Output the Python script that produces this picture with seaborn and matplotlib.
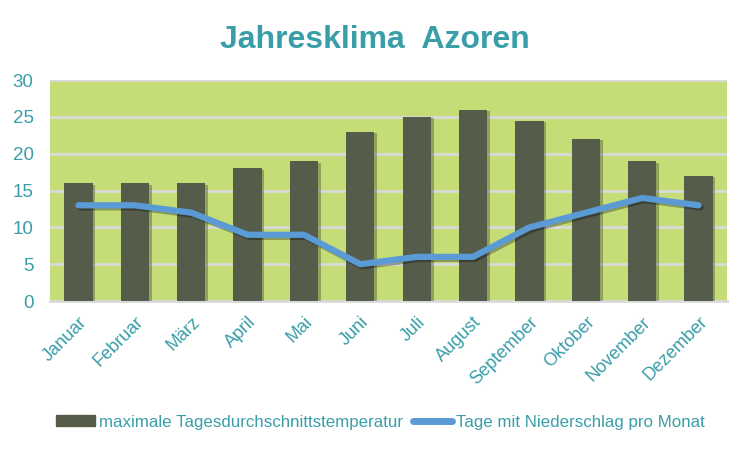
"""
plot.py

Jahresklima Azoren: max. Tagesdurchschnittstemperatur (Balken) und
Regentage pro Monat (Linie).
"""
import pandas as pd
import seaborn as sns

from matplotlib import pyplot as plt
from matplotlib import patheffects as pe
from matplotlib.lines import Line2D
from matplotlib.patches import Patch


MONTHS = ["Januar", "Februar", "März", "April", "Mai", "Juni", "Juli",
          "August", "September", "Oktober", "November", "Dezember"]
TEMP_MAX = [16, 16, 16, 18, 19, 23, 25, 26, 24.5, 22, 19, 17]
RAIN_DAYS = [13, 13, 12, 9, 9, 5, 6, 6, 10, 12, 14, 13]

TEAL = "#3a9ea8"
BAR_COLOR = "#555c4a"
LINE_COLOR = "#5b9bd5"
BG_COLOR = "#c5dd77"

sns.set_style("white")
plt.rcParams["font.family"] = ["Liberation Sans", "DejaVu Sans"]


def main():
    df = pd.DataFrame({"monat": MONTHS, "temp": TEMP_MAX, "regen": RAIN_DAYS})

    fig = plt.figure(figsize=(7.5, 4.5), dpi=100)
    ax = fig.add_axes([0.067, 0.331, 0.902, 0.491])
    ax.set_facecolor(BG_COLOR)

    sns.barplot(data=df, x="monat", y="temp", color=BAR_COLOR, width=0.5,
                saturation=1, linewidth=0, ax=ax, zorder=3)
    for bar in ax.patches:
        bar.set_path_effects([pe.SimplePatchShadow(offset=(2, -1),
                                                   alpha=0.3),
                              pe.Normal()])

    sns.lineplot(data=df, x="monat", y="regen", color=LINE_COLOR,
                 linewidth=4.5, sort=False, ax=ax, zorder=4)
    for line in ax.lines:
        line.set_solid_capstyle("round")
        line.set_path_effects([pe.SimpleLineShadow(offset=(1.5, -1.5),
                                                   alpha=0.3),
                               pe.Normal()])

    ax.set_ylim(0, 30)
    ax.set_xlim(-0.5, 11.5)
    ax.set_yticks(range(0, 31, 5))
    ax.yaxis.grid(True, color="#d9d9d9", linewidth=2, zorder=0)
    ax.set_axisbelow(True)
    for side in ["top", "right", "left"]:
        ax.spines[side].set_visible(False)
    ax.spines["bottom"].set_color("#d9d9d9")
    ax.spines["bottom"].set_linewidth(2)

    ax.set_xlabel("")
    ax.set_ylabel("")
    ax.tick_params(axis="both", length=0, colors=TEAL)
    ax.tick_params(axis="y", labelsize=13.5, pad=12)
    ax.tick_params(axis="x", labelsize=13, pad=9)
    plt.setp(ax.get_xticklabels(), rotation=45, ha="right",
             rotation_mode="anchor")

    fig.text(0.5, 0.912, "Jahresklima  Azoren", ha="center", va="center",
             color=TEAL, fontsize=23, fontweight="bold")

    handles = [Patch(color=BAR_COLOR),
               Line2D([], [], color=LINE_COLOR, linewidth=5,
                      solid_capstyle="round")]
    labels = ["maximale Tagesdurchschnittstemperatur",
              "Tage mit Niederschlag pro Monat"]
    leg = fig.legend(handles, labels, loc="center", ncol=2,
                     bbox_to_anchor=(0.507, 0.062), frameon=False,
                     fontsize=12.2, handlelength=2.3, handleheight=0.6,
                     handletextpad=0.25, columnspacing=0.6)
    for text in leg.get_texts():
        text.set_color(TEAL)

    fig.savefig("out.png", dpi=100)


if __name__ == "__main__":
    main()
